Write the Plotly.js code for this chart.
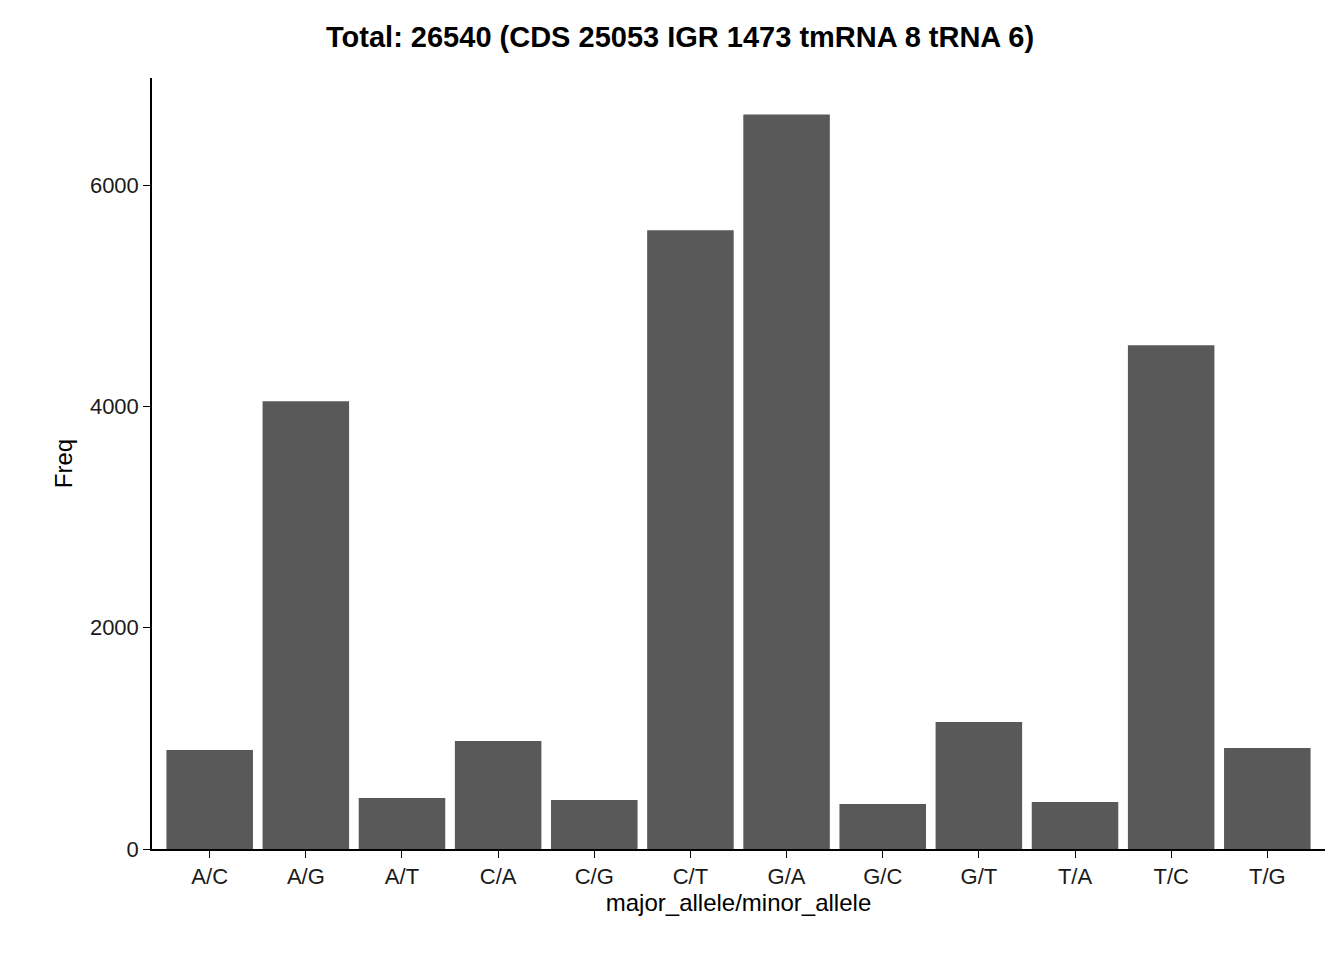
<!DOCTYPE html>
<html><head><script src="https://cdn.plot.ly/plotly-3.0.1.min.js"></script></head>
<body style="margin:0"><div id="c" style="width:1344px;height:960px"></div>
<script>
const categories = ["A/C","A/G","A/T","C/A","C/G","C/T","G/A","G/C","G/T","T/A","T/C","T/G"];
const freq = [895,4048,461,976,443,5593,6641,407,1148,425,4554,913];
const yTicks = [0,2000,4000,6000];
const font = "Liberation Sans, Arial, sans-serif";
Plotly.newPlot("c",[{type:"bar",x:categories,y:freq,marker:{color:"#595959"},width:0.9}],{
  width:1344,height:960,paper_bgcolor:"white",plot_bgcolor:"white",
  margin:{l:152,r:19,t:78,b:111},
  title:{text:"<b>Total: 26540 (CDS 25053 IGR 1473 tmRNA 8 tRNA 6)</b>",font:{family:font,size:29,color:"black"},x:0.506,xanchor:"center",y:0.962,yanchor:"middle"},
  xaxis:{title:{text:"major_allele/minor_allele",font:{family:font,size:24,color:"black"},standoff:6},
    showline:true,linecolor:"black",linewidth:1.5,ticks:"outside",ticklen:7,tickcolor:"black",
    tickfont:{family:font,size:22,color:"#1a1a1a"},range:[-0.6,11.6]},
  yaxis:{title:{text:"Freq",font:{family:font,size:24,color:"black"},standoff:10},range:[0,6970],
    tickvals:yTicks,showline:true,linecolor:"black",linewidth:1.5,ticks:"outside",ticklen:7,tickcolor:"black",
    showgrid:false,zeroline:false,tickfont:{family:font,size:22,color:"#1a1a1a"}},
  bargap:0.1
},{displayModeBar:false});
</script></body></html>
